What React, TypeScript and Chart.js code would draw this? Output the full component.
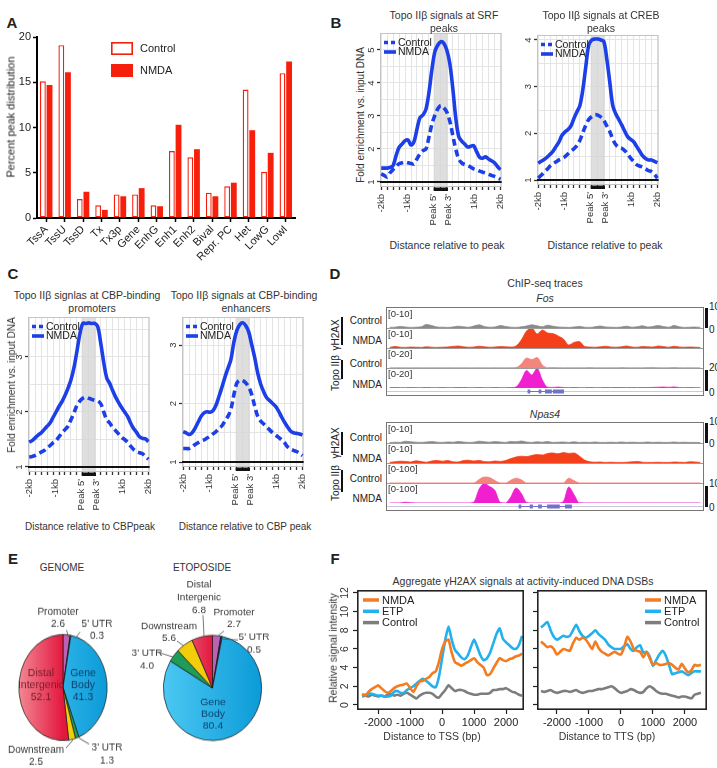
import React, { useEffect, useRef } from "react";
import { Chart, registerables } from "chart.js";

Chart.register(...registerables);

const FONT = "'Liberation Sans', Arial, Helvetica, sans-serif";
const INK = "#222";
Chart.defaults.font.family = FONT;
Chart.defaults.color = INK;

/* ---------------- A: peak distribution over chromatin states ---------------- */
const STATES = ["TssA", "TssU", "TssD", "Tx", "Tx3p", "Gene", "EnhG", "Enh1", "Enh2", "Bival", "Repr. PC", "Het", "LowG", "LowI"];
const PEAKS_CONTROL = [15.1, 19.1, 2.1, 1.4, 2.6, 2.6, 1.4, 7.4, 6.7, 2.8, 3.5, 14.2, 5.1, 16.0];
const PEAKS_NMDA = [14.7, 16.1, 2.9, 0.9, 2.4, 3.3, 1.3, 10.3, 7.6, 2.4, 3.9, 9.7, 7.2, 17.3];
const RED = "#f61f0c";

/* ---------------- B / C: Topo IIβ fold-enrichment profiles ---------------- */
const PROFILE_POS = Array.from({ length: 41 }, (_, i) => i * 2.5);
const PROFILE_GRID = Array.from({ length: 21 }, (_, i) => i * 5);
const PROFILE_TICKS = [0, 22, 44, 56, 78, 100];
const PROFILE_TICK_LABELS = ["-2kb", "-1kb", "Peak 5'", "Peak 3'", "1kb", "2kb"];
const PEAK_BODY = [44, 56];
const BLUE = "#1c3fe8";

const SRF_CONTROL = [1.25, 1.2, 1.15, 1.28, 1.38, 1.47, 1.55, 1.58, 1.6, 1.58, 1.56, 1.55, 1.7, 1.85, 1.95, 2.0, 2.35, 2.75, 3.02, 3.22, 3.32, 3.25, 3.12, 2.85, 2.42, 2.0, 1.7, 1.58, 1.53, 1.5, 1.45, 1.4, 1.37, 1.33, 1.3, 1.27, 1.23, 1.2, 1.17, 1.13, 1.08];
const SRF_NMDA = [1.42, 1.42, 1.42, 1.44, 1.5, 1.8, 2.05, 2.15, 2.25, 2.27, 2.12, 2.22, 2.6, 2.95, 3.03, 3.2, 3.7, 4.4, 4.95, 5.15, 5.25, 5.2, 5.0, 4.6, 3.85, 2.95, 2.38, 2.24, 2.15, 2.06, 2.08, 2.1, 1.92, 1.75, 1.72, 1.76, 1.7, 1.64, 1.58, 1.47, 1.37];
const CREB_CONTROL = [1.04, 1.1, 1.17, 1.23, 1.3, 1.35, 1.39, 1.43, 1.46, 1.5, 1.56, 1.62, 1.67, 1.74, 1.85, 2.02, 2.18, 2.3, 2.36, 2.4, 2.39, 2.35, 2.28, 2.16, 2.04, 1.88, 1.76, 1.7, 1.68, 1.63, 1.56, 1.47, 1.4, 1.33, 1.3, 1.28, 1.24, 1.2, 1.18, 1.12, 1.04];
const CREB_NMDA = [1.36, 1.4, 1.44, 1.49, 1.55, 1.62, 1.72, 1.82, 1.96, 2.03, 2.08, 2.16, 2.32, 2.46, 2.6, 2.95, 3.45, 3.9, 4.0, 4.02, 4.02, 4.0, 3.97, 3.6, 3.1, 2.6, 2.42, 2.3, 2.18, 2.05, 1.93, 1.87, 1.82, 1.72, 1.62, 1.52, 1.46, 1.43, 1.43, 1.4, 1.37];
const PROMOTER_CONTROL = [1.18, 1.19, 1.21, 1.24, 1.27, 1.3, 1.35, 1.39, 1.44, 1.48, 1.55, 1.62, 1.68, 1.74, 1.86, 1.98, 2.12, 2.2, 2.25, 2.27, 2.25, 2.23, 2.21, 2.2, 2.15, 2.0, 1.86, 1.8, 1.72, 1.66, 1.6, 1.54, 1.5, 1.45, 1.38, 1.32, 1.28, 1.26, 1.24, 1.19, 1.14];
const PROMOTER_NMDA = [1.45, 1.48, 1.53, 1.58, 1.62, 1.68, 1.74, 1.8, 1.9, 2.0, 2.1, 2.19, 2.3, 2.43, 2.58, 2.8, 3.1, 3.42, 3.61, 3.61, 3.62, 3.61, 3.61, 3.55, 3.25, 2.9, 2.62, 2.52, 2.39, 2.27, 2.17, 2.08, 2.0, 1.92, 1.8, 1.7, 1.63, 1.55, 1.52, 1.51, 1.46];
const ENHANCER_CONTROL = [1.23, 1.23, 1.23, 1.26, 1.3, 1.33, 1.36, 1.38, 1.41, 1.44, 1.48, 1.52, 1.57, 1.62, 1.7, 1.78, 1.9, 2.15, 2.35, 2.4, 2.39, 2.35, 2.28, 2.15, 1.95, 1.78, 1.7, 1.65, 1.6, 1.55, 1.5, 1.46, 1.42, 1.38, 1.33, 1.26, 1.22, 1.2, 1.18, 1.15, 1.11];
const ENHANCER_NMDA = [1.52, 1.5, 1.47, 1.5, 1.58, 1.68, 1.78, 1.84, 1.86, 1.85, 1.88, 1.97, 2.12, 2.28, 2.45, 2.6, 2.75, 3.05, 3.25, 3.35, 3.38, 3.33, 3.22, 3.0, 2.78, 2.52, 2.33, 2.2, 2.1, 2.05, 2.0, 1.95, 1.87, 1.77, 1.68, 1.6, 1.53, 1.5, 1.49, 1.48, 1.46];

/* ---------------- D: ChIP-seq tracks (60 bins across the locus) ---------------- */
const FOS_GH2AX_CONTROL = [0.3, 0.4, 0.8, 0.5, 0.3, 0.4, 0.6, 1.8, 1.2, 0.5, 0.4, 0.3, 0.5, 0.9, 0.6, 0.4, 1.0, 1.6, 0.7, 0.4, 0.5, 1.2, 0.8, 0.4, 0.3, 0.6, 1.0, 1.6, 1.1, 0.6, 1.4, 0.9, 0.5, 0.4, 0.3, 0.5, 0.8, 0.4, 0.3, 0.6, 1.0, 0.5, 0.4, 0.3, 0.5, 0.9, 0.4, 0.6, 1.1, 0.5, 0.8, 1.2, 0.7, 0.4, 1.3, 0.6, 0.3, 0.4, 0.5, 0.3];
const FOS_GH2AX_NMDA = [0.3, 0.8, 0.4, 0.3, 0.5, 0.4, 0.3, 0.6, 0.4, 0.3, 0.4, 0.5, 0.8, 1.0, 0.6, 0.4, 0.5, 0.9, 0.6, 0.4, 0.5, 0.7, 0.6, 0.5, 1.0, 4.0, 8.5, 10, 7.0, 9.0, 7.5, 7.2, 6.0, 4.5, 1.5, 2.8, 3.2, 0.8, 0.5, 0.4, 0.6, 0.9, 0.5, 0.4, 0.6, 1.0, 0.5, 0.4, 0.8, 0.6, 0.5, 1.0, 0.7, 0.4, 0.9, 0.5, 0.4, 0.5, 0.4, 0.3];
const FOS_TOPO_CONTROL = [0.2, 0.2, 0.3, 0.2, 0.2, 0.3, 0.2, 0.2, 0.3, 0.2, 0.2, 0.3, 0.2, 0.2, 0.3, 0.2, 0.2, 0.3, 0.2, 0.2, 0.3, 0.2, 0.2, 0.3, 0.5, 4.0, 10.0, 8.5, 10.5, 3.0, 0.3, 0.4, 0.3, 0.2, 0.3, 0.2, 0.3, 0.2, 0.4, 0.2, 0.3, 0.2, 0.3, 0.2, 0.5, 0.3, 0.2, 0.3, 0.2, 0.4, 0.6, 0.3, 0.2, 0.3, 0.5, 0.3, 0.2, 0.3, 0.2, 0.2];
const FOS_TOPO_NMDA = [0.3, 0.4, 0.3, 0.3, 0.4, 0.3, 0.3, 0.5, 0.3, 0.3, 0.4, 0.3, 0.3, 0.5, 0.4, 0.3, 0.3, 0.4, 0.3, 0.3, 0.4, 0.3, 0.3, 0.4, 1.0, 8.0, 17.5, 13.0, 19.5, 8.0, 0.8, 0.6, 0.9, 0.5, 0.3, 0.4, 0.3, 0.3, 0.4, 0.3, 0.3, 0.4, 0.3, 0.5, 0.4, 0.3, 0.4, 0.3, 0.5, 0.4, 0.6, 0.8, 1.0, 0.7, 1.1, 0.5, 0.3, 0.4, 0.3, 0.3];
const NPAS4_GH2AX_CONTROL = [0.2, 0.4, 0.3, 0.9, 0.6, 0.4, 0.3, 0.5, 0.7, 0.4, 0.3, 0.5, 0.4, 0.8, 0.5, 0.3, 0.4, 0.9, 0.6, 0.4, 0.7, 0.5, 0.3, 0.8, 0.6, 1.0, 0.5, 0.3, 0.6, 0.4, 0.7, 0.3, 0.4, 0.5, 0.3, 0.6, 0.3, 0.4, 0.3, 0.5, 0.3, 0.3, 0.4, 0.3, 0.5, 0.3, 0.4, 0.3, 0.3, 0.5, 0.3, 0.4, 0.3, 0.3, 0.5, 0.3, 0.4, 0.3, 0.3, 0.2];
const NPAS4_GH2AX_NMDA = [0.3, 0.6, 0.9, 0.8, 0.5, 1.1, 0.7, 0.4, 1.0, 1.2, 0.9, 1.3, 0.6, 0.5, 1.2, 1.4, 1.0, 1.3, 0.7, 0.6, 1.0, 0.8, 1.2, 2.2, 3.0, 3.4, 3.2, 3.8, 4.2, 4.0, 4.8, 5.0, 4.6, 5.2, 4.8, 5.0, 3.5, 1.5, 0.6, 0.4, 0.5, 0.3, 0.4, 0.3, 0.3, 0.4, 0.6, 0.8, 0.4, 0.3, 0.3, 0.4, 0.3, 0.3, 0.5, 0.4, 0.3, 0.6, 0.5, 0.3];
const NPAS4_TOPO_CONTROL = [0.3, 0.3, 0.3, 0.5, 0.3, 0.3, 0.3, 0.3, 0.3, 0.3, 0.3, 0.3, 0.3, 0.3, 0.3, 0.3, 0.6, 18, 30, 27, 12, 0.5, 0.3, 14, 24, 16, 0.5, 0.3, 0.3, 0.3, 0.3, 0.3, 0.3, 0.6, 24, 12, 0.5, 0.3, 0.3, 0.3, 0.3, 0.3, 0.3, 0.3, 0.3, 0.3, 0.3, 0.3, 0.3, 0.3, 0.3, 0.3, 0.3, 0.3, 0.3, 0.3, 0.3, 0.3, 0.3, 0.3];
const NPAS4_TOPO_NMDA = [0.3, 0.3, 0.5, 4, 1, 0.3, 0.3, 0.3, 0.3, 0.3, 0.3, 0.3, 0.3, 0.3, 0.3, 0.3, 5, 70, 98, 82, 62, 3, 0.5, 30, 75, 48, 3, 0.3, 0.3, 0.3, 0.3, 0.3, 0.3, 8, 80, 42, 1, 0.3, 0.3, 0.3, 0.3, 0.3, 0.3, 0.3, 0.3, 0.3, 0.3, 0.3, 0.3, 0.3, 0.3, 0.3, 0.3, 0.3, 0.3, 0.3, 0.3, 0.3, 0.3, 0.3];
const FOS_GENE = [26.2, 33.1];
const FOS_EXONS = [[26.2, 26.7], [28.3, 28.8], [29.5, 30.8], [31.0, 33.1]];
const NPAS4_GENE = [24.5, 34.6];
const NPAS4_EXONS = [[24.5, 25.0], [26.6, 27.2], [28.2, 28.9], [29.9, 32.3], [33.3, 34.6]];

/* ---------------- E: genomic annotation of peaks ---------------- */
const REGIONS = ["Promoter", "5' UTR", "Gene Body", "3' UTR", "Downstream", "Distal Intergenic"];
const GENOME_PCT = [2.6, 0.3, 41.3, 1.3, 2.5, 52.1];
const ETOPOSIDE_PCT = [2.7, 0.5, 80.4, 4.0, 5.6, 6.8];
const REGION_COLORS = ["#bb62b5", "#24215a", "#1aaee8", "#1f9d58", "#f3cd0c", "#e8294a"];

/* ---------------- F: aggregate γH2AX signal ---------------- */
const BP = Array.from({ length: 51 }, (_, i) => -2500 + i * 100);
const BP_TICKS = [-2000, -1000, 0, 1000, 2000];
const INTENSITY_TICKS = [0, 2, 4, 6, 8, 10, 12];
const TSS_NMDA = [1.2, 1.0, 1.4, 1.7, 1.9, 2.1, 1.8, 1.5, 1.3, 1.5, 1.8, 2.0, 2.1, 2.2, 2.3, 1.8, 1.4, 2.0, 2.5, 2.6, 2.8, 3.0, 3.4, 3.6, 4.6, 6.0, 6.8, 7.0, 5.6, 4.6, 4.4, 4.2, 4.4, 4.6, 4.8, 5.0, 4.6, 4.3, 4.0, 3.2, 3.3, 3.9, 4.5, 5.0, 4.8, 4.7, 4.9, 5.0, 5.2, 5.3, 5.5];
const TSS_ETP = [1.0, 1.1, 1.2, 1.2, 1.1, 1.0, 1.0, 0.9, 0.9, 1.0, 1.4, 1.5, 1.3, 1.3, 1.6, 1.8, 2.0, 2.3, 2.6, 2.8, 2.6, 2.3, 2.0, 1.9, 3.0, 5.0, 7.0, 8.4, 7.0, 5.9, 5.5, 5.1, 4.9, 5.3, 6.2, 7.0, 6.2, 5.3, 4.8, 5.0, 5.6, 6.6, 7.6, 8.2, 7.1, 6.7, 6.4, 6.1, 6.0, 6.4, 7.4];
const TSS_CONTROL = [0.9, 1.0, 0.9, 1.1, 1.0, 0.9, 1.0, 0.9, 1.1, 1.2, 1.0, 1.1, 1.0, 1.2, 1.3, 1.1, 0.9, 0.7, 1.0, 1.2, 1.3, 1.3, 1.2, 0.9, 0.8, 1.2, 1.6, 2.1, 1.8, 1.5, 1.6, 1.6, 1.5, 1.3, 1.2, 1.1, 1.1, 1.2, 1.2, 1.2, 1.3, 1.6, 1.6, 1.7, 1.7, 1.8, 1.6, 1.4, 1.3, 1.1, 1.0];
const TTS_NMDA = [6.8, 6.5, 6.2, 6.3, 6.0, 5.4, 5.7, 6.0, 5.9, 5.8, 6.6, 7.2, 7.0, 7.2, 7.0, 6.5, 6.0, 6.8, 6.1, 5.7, 5.5, 5.3, 5.5, 5.7, 5.5, 5.4, 6.2, 7.3, 6.8, 6.0, 5.8, 5.7, 5.1, 5.7, 5.0, 4.3, 4.5, 4.3, 4.3, 4.4, 4.5, 4.3, 4.0, 3.8, 4.4, 3.9, 3.5, 3.7, 4.3, 4.2, 4.3];
const TTS_ETP = [8.3, 8.6, 8.9, 8.0, 7.3, 7.0, 7.2, 7.4, 7.3, 7.4, 8.0, 8.6, 7.9, 7.4, 7.2, 7.4, 7.7, 8.0, 7.6, 7.3, 7.0, 6.5, 6.2, 6.0, 6.0, 6.0, 6.3, 6.5, 6.0, 5.8, 6.2, 6.4, 5.6, 5.7, 5.2, 4.2, 4.8, 5.4, 5.8, 5.3, 4.3, 3.3, 3.4, 3.5, 3.6, 3.4, 3.2, 3.4, 3.6, 3.6, 3.6];
const TTS_CONTROL = [1.5, 1.4, 1.5, 1.6, 1.4, 1.3, 1.4, 1.5, 1.5, 1.4, 1.5, 1.6, 1.4, 1.3, 1.4, 1.5, 1.5, 1.6, 1.7, 1.7, 1.8, 1.9, 2.0, 1.8, 1.5, 1.3, 1.4, 1.5, 1.7, 1.6, 1.4, 1.3, 1.4, 1.8, 2.0, 1.8, 1.5, 1.3, 1.2, 1.2, 1.1, 1.0, 0.9, 0.8, 0.9, 0.9, 0.8, 0.7, 1.1, 1.2, 1.3];
const ORANGE = "#f47b20";
const SKY = "#22b1ec";
const GREY = "#7d7d7d";

type Rect = { left: number; top: number; width: number; height: number };
type Area = { l: number; t: number; r: number; b: number };

/* ---------- generic helpers ---------- */
function ChartCanvas({ rect, make, style }: { rect: Rect; make: () => any; style?: React.CSSProperties }) {
  const ref = useRef<HTMLCanvasElement | null>(null);
  useEffect(() => {
    if (!ref.current) return;
    const chart = new Chart(ref.current, make());
    return () => chart.destroy();
  }, []);
  return (
    <canvas
      ref={ref}
      width={rect.width}
      height={rect.height}
      style={{ position: "absolute", left: rect.left, top: rect.top, width: rect.width, height: rect.height, ...style }}
    />
  );
}

function Label(props: {
  x: number; y: number; text: string; size?: number; align?: "left" | "center" | "right";
  rotate?: number; bold?: boolean; italic?: boolean; color?: string;
}) {
  const { x, y, text, size = 10, align = "center", rotate = 0, bold = false, italic = false, color = INK } = props;
  const tx = align === "center" ? "-50%" : align === "right" ? "-100%" : "0";
  return (
    <div
      style={{
        position: "absolute", left: x, top: y, transform: `translate(${tx}, -50%) rotate(${rotate}deg)`,
        whiteSpace: "nowrap", fontSize: size, lineHeight: 1, fontWeight: bold ? 700 : 400,
        fontStyle: italic ? "italic" : "normal", color, fontFamily: FONT,
      }}
    >
      {text}
    </div>
  );
}

function Bar({ x, y, w, h }: { x: number; y: number; w: number; h: number }) {
  return <div style={{ position: "absolute", left: x, top: y, width: w, height: h, background: "#111" }} />;
}

function drawRotatedYLabels(chart: any, offset: number, size: number, keep: (v: number) => boolean) {
  const { ctx, chartArea: a, scales } = chart;
  const y = scales.y;
  ctx.save();
  ctx.fillStyle = "#333";
  ctx.font = `${size}px ${FONT}`;
  ctx.textAlign = "center";
  ctx.textBaseline = "middle";
  for (const t of y.ticks) {
    if (!keep(t.value)) continue;
    ctx.save();
    ctx.translate(a.left - offset, y.getPixelForValue(t.value));
    ctx.rotate(-Math.PI / 2);
    ctx.fillText(String(t.value), 0, 0);
    ctx.restore();
  }
  ctx.restore();
}

/* ---------- A ---------- */
const barLegend = {
  id: "barLegend",
  afterDraw(chart: any) {
    const { ctx, chartArea: a } = chart;
    ctx.save();
    chart.data.datasets.forEach((d: any, i: number) => {
      const x = a.left + 74;
      const y = a.top + 5 + i * 22;
      ctx.fillStyle = d.backgroundColor;
      ctx.fillRect(x, y, 22, 13);
      ctx.strokeStyle = d.borderColor;
      ctx.lineWidth = 1.6;
      ctx.strokeRect(x + 0.8, y + 0.8, 20.4, 11.4);
      ctx.fillStyle = INK;
      ctx.font = `11px ${FONT}`;
      ctx.textBaseline = "middle";
      ctx.fillText(d.label, x + 29, y + 7);
    });
    ctx.restore();
  },
};

function peakDistributionConfig() {
  const axisGrid = { display: true, drawOnChartArea: false, tickLength: 4, tickWidth: 1.5, tickColor: "#000" };
  return {
    type: "bar",
    data: {
      labels: STATES,
      datasets: [
        { label: "Control", data: PEAKS_CONTROL, backgroundColor: "#ffffff", borderColor: RED, borderWidth: 1.4, borderSkipped: false, categoryPercentage: 0.72, barPercentage: 0.88 },
        { label: "NMDA", data: PEAKS_NMDA, backgroundColor: RED, borderColor: RED, borderWidth: 0, categoryPercentage: 0.72, barPercentage: 0.88 },
      ],
    },
    options: {
      responsive: false,
      animation: false,
      layout: { padding: { top: 37, right: 5, left: 0, bottom: 0 } },
      plugins: { legend: { display: false }, tooltip: { enabled: false } },
      scales: {
        x: {
          grid: { ...axisGrid, offset: false },
          border: { color: "#000", width: 2 },
          ticks: { autoSkip: false, minRotation: 45, maxRotation: 45, padding: 1, font: { size: 11 }, color: INK },
          afterFit: (s: any) => { s.height = 44; },
        },
        y: {
          min: 0, max: 20,
          grid: axisGrid,
          border: { color: "#000", width: 2 },
          ticks: { stepSize: 5, padding: 2, font: { size: 11 }, color: INK },
          afterFit: (s: any) => { s.width = 37; },
        },
      },
    },
    plugins: [barLegend],
  };
}

/* ---------- B / C ---------- */
const profileDecor = {
  id: "profileDecor",
  beforeDatasetsDraw(chart: any) {
    const { ctx, chartArea: a, scales } = chart;
    const x0 = scales.x.getPixelForValue(PEAK_BODY[0]);
    const x1 = scales.x.getPixelForValue(PEAK_BODY[1]);
    ctx.save();
    ctx.fillStyle = "rgba(214,214,214,0.8)";
    ctx.fillRect(x0, a.top, x1 - x0, a.bottom - a.top);
    ctx.strokeStyle = "#c4c4c4";
    ctx.lineWidth = 1;
    ctx.strokeRect(a.left + 0.5, a.top + 0.5, a.right - a.left - 1, a.bottom - a.top - 1);
    const y1 = scales.y.getPixelForValue(1);
    ctx.strokeStyle = "#111";
    ctx.lineWidth = 2;
    ctx.beginPath();
    ctx.moveTo(a.left, y1);
    ctx.lineTo(a.right, y1);
    ctx.stroke();
    ctx.fillStyle = "#111";
    ctx.fillRect(x0, a.bottom + 0.5, x1 - x0, 3.5);
    ctx.restore();
  },
  afterDraw(chart: any) {
    const { ctx, chartArea: a } = chart;
    drawRotatedYLabels(chart, 9, 9.5, (v) => Number.isInteger(v));
    ctx.save();
    chart.data.datasets.forEach((d: any, i: number) => {
      const y = a.top + 9.5 + i * 9.5;
      ctx.strokeStyle = d.borderColor;
      ctx.lineWidth = 3.6;
      ctx.setLineDash(d.borderDash ? [4, 3] : []);
      ctx.beginPath();
      ctx.moveTo(a.left + 4, y);
      ctx.lineTo(a.left + 16, y);
      ctx.stroke();
      ctx.setLineDash([]);
      ctx.fillStyle = INK;
      ctx.font = `10.5px ${FONT}`;
      ctx.textBaseline = "middle";
      ctx.fillText(d.label, a.left + 18, y + 0.5);
    });
    ctx.restore();
  },
};

type ProfilePanel = { rect: Rect; area: Area; yMin: number; yMax: number; control: number[]; nmda: number[] };

function profileConfig(p: ProfilePanel) {
  const { rect, area } = p;
  const yTicks: number[] = [];
  for (let v = Math.ceil(p.yMin * 2) / 2; v <= p.yMax; v += 0.5) yTicks.push(v);
  const bottomSpace = rect.top + rect.height - area.b;
  const series = (vals: number[]) => PROFILE_POS.map((x, i) => ({ x, y: vals[i] }));
  return {
    type: "line",
    data: {
      datasets: [
        { label: "Control", data: series(p.control), borderColor: BLUE, borderWidth: 3.6, borderDash: [7, 4], borderCapStyle: "butt", pointRadius: 0, tension: 0.35, fill: false },
        { label: "NMDA", data: series(p.nmda), borderColor: BLUE, borderWidth: 3.6, pointRadius: 0, tension: 0.35, fill: false },
      ],
    },
    options: {
      responsive: false,
      animation: false,
      layout: { padding: { top: area.t - rect.top, right: rect.left + rect.width - area.r, left: 0, bottom: 0 } },
      plugins: { legend: { display: false }, tooltip: { enabled: false } },
      scales: {
        x: {
          type: "linear", min: -1, max: 101, position: "bottom", weight: 0,
          afterBuildTicks: (s: any) => { s.ticks = PROFILE_GRID.map((v) => ({ value: v })); },
          grid: { color: "#e4e4e4", lineWidth: 1, drawTicks: true, tickLength: 3, tickColor: "#333", tickWidth: 1.3 },
          border: { display: false },
          ticks: { display: false },
          afterFit: (s: any) => { s.height = 3; },
        },
        xl: {
          type: "linear", min: -1, max: 101, position: "bottom", weight: 1,
          afterBuildTicks: (s: any) => { s.ticks = PROFILE_TICKS.map((v) => ({ value: v })); },
          grid: { display: false, drawTicks: false },
          border: { display: false },
          ticks: {
            autoSkip: false, minRotation: 90, maxRotation: 90, padding: 4,
            font: { size: 9.5 }, color: "#333",
            callback: (v: number) => PROFILE_TICK_LABELS[PROFILE_TICKS.indexOf(v)] ?? "",
          },
          afterFit: (s: any) => { s.height = bottomSpace - 3; },
        },
        y: {
          type: "linear", min: p.yMin, max: p.yMax,
          afterBuildTicks: (s: any) => { s.ticks = yTicks.map((v) => ({ value: v })); },
          grid: {
            color: "#e4e4e4", drawTicks: true, tickLength: 3, tickWidth: 1.3,
            tickColor: (c: any) => (c.tick && Number.isInteger(c.tick.value) ? "#333" : "rgba(0,0,0,0)"),
          },
          border: { display: false },
          ticks: { display: false },
          afterFit: (s: any) => { s.width = area.l - rect.left; },
        },
      },
    },
    plugins: [profileDecor],
  };
}

const PROFILE_PANELS: ProfilePanel[] = [
  { rect: { left: 366, top: 30, width: 150, height: 205 }, area: { l: 380, t: 33, r: 508, b: 187 }, yMin: 0.848, yMax: 5.515, control: SRF_CONTROL, nmda: SRF_NMDA },
  { rect: { left: 523, top: 30, width: 150, height: 205 }, area: { l: 537, t: 35, r: 662, b: 185 }, yMin: 0.893, yMax: 4.107, control: CREB_CONTROL, nmda: CREB_NMDA },
  { rect: { left: 14, top: 314, width: 150, height: 205 }, area: { l: 28, t: 317, r: 158, b: 472 }, yMin: 0.909, yMax: 3.727, control: PROMOTER_CONTROL, nmda: PROMOTER_NMDA },
  { rect: { left: 168, top: 314, width: 150, height: 205 }, area: { l: 182, t: 317, r: 310, b: 467 }, yMin: 0.915, yMax: 3.479, control: ENHANCER_CONTROL, nmda: ENHANCER_NMDA },
];

/* ---------- D ---------- */
const trackDecor = {
  id: "trackDecor",
  afterDraw(chart: any, _args: any, o: any) {
    const { ctx, chartArea: a, scales } = chart;
    ctx.save();
    if (o.separator) {
      ctx.strokeStyle = "#9c9c9c";
      ctx.lineWidth = 1;
      ctx.beginPath();
      ctx.moveTo(0, 0.5);
      ctx.lineTo(chart.width, 0.5);
      ctx.stroke();
    }
    ctx.fillStyle = "#333";
    ctx.font = `9.5px ${FONT}`;
    ctx.textBaseline = "top";
    ctx.fillText(`[0-${scales.y.max}]`, 1, 2);
    if (o.gene) {
      const gy = a.bottom + 3.5;
      ctx.strokeStyle = "#c9c9d8";
      ctx.lineWidth = 1;
      ctx.beginPath();
      ctx.moveTo(0, gy);
      ctx.lineTo(chart.width, gy);
      ctx.stroke();
      const gx0 = scales.x.getPixelForValue(o.gene[0]);
      const gx1 = scales.x.getPixelForValue(o.gene[1]);
      ctx.strokeStyle = "#6f72c6";
      ctx.beginPath();
      ctx.moveTo(gx0, gy);
      ctx.lineTo(gx1, gy);
      ctx.stroke();
      ctx.fillStyle = "#7073c8";
      for (const [s, e] of o.exons) {
        const x0 = scales.x.getPixelForValue(s);
        const x1 = scales.x.getPixelForValue(e);
        ctx.fillRect(x0, gy - 2, Math.max(1.5, x1 - x0), 4);
      }
    }
    ctx.restore();
  },
};

type Track = { values: number[]; color: string; max: number };

function trackConfig(t: Track, separator: boolean, gene?: number[], exons?: number[][]) {
  return {
    type: "line",
    data: {
      datasets: [{
        data: t.values.map((y, i) => ({ x: i, y })),
        borderColor: t.color, backgroundColor: t.color, borderWidth: 0.8,
        fill: "origin", pointRadius: 0, cubicInterpolationMode: "monotone",
      }],
    },
    options: {
      responsive: false,
      animation: false,
      layout: { padding: { top: 0, left: 0, right: 0, bottom: gene ? 7 : 0 } },
      plugins: { legend: { display: false }, tooltip: { enabled: false }, trackDecor: { separator, gene, exons: exons || [] } },
      scales: {
        x: { type: "linear", min: -0.5, max: 59.5, display: false },
        y: { type: "linear", min: 0, max: t.max, display: false },
      },
    },
    plugins: [trackDecor],
  };
}

const TRACK_COLORS = { gh2axControl: "#8a8a8a", gh2axNmda: "#f4401a", topoControl: "#f2857c", topoNmda: "#f01fd0" };

const FOS_TRACKS: Track[] = [
  { values: FOS_GH2AX_CONTROL, color: TRACK_COLORS.gh2axControl, max: 10 },
  { values: FOS_GH2AX_NMDA, color: TRACK_COLORS.gh2axNmda, max: 10 },
  { values: FOS_TOPO_CONTROL, color: TRACK_COLORS.topoControl, max: 20 },
  { values: FOS_TOPO_NMDA, color: TRACK_COLORS.topoNmda, max: 20 },
];
const NPAS4_TRACKS: Track[] = [
  { values: NPAS4_GH2AX_CONTROL, color: TRACK_COLORS.gh2axControl, max: 10 },
  { values: NPAS4_GH2AX_NMDA, color: TRACK_COLORS.gh2axNmda, max: 10 },
  { values: NPAS4_TOPO_CONTROL, color: TRACK_COLORS.topoControl, max: 100 },
  { values: NPAS4_TOPO_NMDA, color: TRACK_COLORS.topoNmda, max: 100 },
];

function TrackBlock({ top, tracks, gene, exons }: { top: number; tracks: Track[]; gene: number[]; exons: number[][] }) {
  const offsets = [1, 21, 41, 61];
  return (
    <>
      <div style={{ position: "absolute", left: 386, top, width: 318, height: 89, border: "1px solid #777", boxSizing: "border-box" }} />
      {tracks.map((t, i) => {
        const last = i === tracks.length - 1;
        return (
          <ChartCanvas
            key={i}
            rect={{ left: 387, top: top + offsets[i], width: 316, height: last ? 27 : 20 }}
            make={() => trackConfig(t, i > 0, last ? gene : undefined, last ? exons : undefined)}
          />
        );
      })}
    </>
  );
}

/* ---------- E ---------- */
type PieLabelPos = { x: number; y: number; inside?: boolean; color?: string; leader?: number[] };

const GENOME_LABEL_POS: PieLabelPos[] = [
  { x: 58, y: 612, leader: [66.5, 630, 68.5, 637] },
  { x: 97, y: 624, leader: [80, 632, 75.5, 638] },
  { x: 83, y: 673, inside: true, color: "#0d3f6e" },
  { x: 107, y: 748, leader: [89, 744, 79, 738] },
  { x: 36, y: 750, leader: [66, 748, 73, 740] },
  { x: 41, y: 673, inside: true, color: "#7b1c2a" },
];
const ETOPOSIDE_LABEL_POS: PieLabelPos[] = [
  { x: 234, y: 612, leader: [224, 631, 218, 636] },
  { x: 254, y: 637, leader: [238, 640, 222.5, 639] },
  { x: 213, y: 702, inside: true, color: "#0d3f6e" },
  { x: 147, y: 653, leader: [157, 652, 173, 657] },
  { x: 169, y: 626, leader: [177, 641, 184, 646] },
  { x: 199, y: 585, leader: [203, 615, 204, 636] },
];

const pieLabels = {
  id: "pieLabels",
  afterDraw(chart: any, _args: any, o: any) {
    const { ctx } = chart;
    const values: number[] = chart.data.datasets[0].data;
    const names: string[] = chart.data.labels;
    const mx = (px: number) => px - o.left;
    const my = (py: number) => o.cy + (py - o.pageCy) / o.k;
    ctx.save();
    ctx.textAlign = "center";
    ctx.textBaseline = "middle";
    names.forEach((name, i) => {
      const pos: PieLabelPos = o.positions[i];
      const lines = /Body|Intergenic/.test(name) ? name.split(" ") : [name];
      lines.push(values[i].toFixed(1));
      const step = pos.inside ? 12 : 12.5;
      ctx.fillStyle = pos.color || "#383838";
      ctx.font = `${pos.inside ? 10.5 : 10}px ${FONT}`;
      lines.forEach((t, j) => {
        ctx.save();
        ctx.translate(mx(pos.x), my(pos.y + j * step));
        ctx.scale(1, 1 / o.k);
        ctx.fillText(t, 0, 0);
        ctx.restore();
      });
      if (pos.leader) {
        const [x1, y1, x2, y2] = pos.leader;
        ctx.strokeStyle = "#555";
        ctx.lineWidth = 0.8;
        ctx.beginPath();
        ctx.moveTo(mx(x1), my(y1));
        ctx.lineTo(mx(x2), my(y2));
        ctx.stroke();
      }
    });
    ctx.restore();
  },
};

type PieSpec = { values: number[]; rect: Rect; cx: number; cy: number; r: number; k: number; positions: PieLabelPos[] };

function pieFill(c: any) {
  const i = c.dataIndex;
  const a = c.chart.chartArea;
  if (!a) return REGION_COLORS[i];
  if (i === 2) {
    const g = c.chart.ctx.createLinearGradient(a.left, 0, a.right, 0);
    g.addColorStop(0, "#4cc8f3");
    g.addColorStop(1, "#0b9bd8");
    return g;
  }
  if (i === 5) {
    const g = c.chart.ctx.createLinearGradient(a.left, 0, (a.left + a.right) / 2, 0);
    g.addColorStop(0, "#f38893");
    g.addColorStop(1, "#e3183f");
    return g;
  }
  return REGION_COLORS[i];
}

function pieConfig(p: PieSpec) {
  const cyC = p.cy - p.rect.top;
  const cxC = p.cx - p.rect.left;
  return {
    type: "pie",
    data: {
      labels: REGIONS,
      datasets: [{ data: p.values, backgroundColor: pieFill, borderColor: "#1a1a1a", borderWidth: 0.7 }],
    },
    options: {
      responsive: false,
      animation: false,
      rotation: 0,
      layout: { padding: { left: cxC - p.r, right: p.rect.width - cxC - p.r, top: cyC - p.r, bottom: p.rect.height - cyC - p.r } },
      plugins: {
        legend: { display: false }, tooltip: { enabled: false },
        pieLabels: { left: p.rect.left, cy: cyC, pageCy: p.cy, k: p.k, positions: p.positions },
      },
    },
    plugins: [pieLabels],
  };
}

const PIES: PieSpec[] = [
  { values: GENOME_PCT, rect: { left: 0, top: 590, width: 130, height: 178 }, cx: 63, cy: 687.5, r: 44.5, k: 1.2, positions: GENOME_LABEL_POS },
  { values: ETOPOSIDE_PCT, rect: { left: 130, top: 575, width: 170, height: 193 }, cx: 212.5, cy: 688, r: 49.5, k: 1.07, positions: ETOPOSIDE_LABEL_POS },
];

/* ---------- F ---------- */
const aggregateDecor = {
  id: "aggregateDecor",
  afterDraw(chart: any, _args: any, o: any) {
    const { ctx, chartArea: a } = chart;
    ctx.save();
    ctx.strokeStyle = "#222";
    ctx.lineWidth = 1.6;
    ctx.strokeRect(a.left + 0.8, a.top + 0.8, a.right - a.left - 1.6, a.bottom - a.top - 1.6);
    ctx.restore();
    if (o.yLabels) drawRotatedYLabels(chart, 12, 10.5, () => true);
    ctx.save();
    ctx.font = `11px ${FONT}`;
    ctx.textBaseline = "middle";
    chart.data.datasets.forEach((d: any, i: number) => {
      const y = a.top + 10 + i * 11.3;
      const x0 = o.legendRight ? a.right - 62 : a.left + 6;
      ctx.strokeStyle = d.borderColor;
      ctx.lineWidth = 3.5;
      ctx.beginPath();
      ctx.moveTo(x0, y);
      ctx.lineTo(x0 + 16, y);
      ctx.stroke();
      ctx.fillStyle = INK;
      ctx.fillText(d.label, x0 + 19, y + 0.5);
    });
    ctx.restore();
  },
};

type AggregateSpec = { rect: Rect; area: Area; xMin: number; xMax: number; nmda: number[]; etp: number[]; control: number[]; yLabels: boolean; legendRight: boolean };

function aggregateConfig(p: AggregateSpec) {
  const { rect, area } = p;
  const series = (vals: number[]) => BP.map((x, i) => ({ x, y: vals[i] }));
  const line = { pointRadius: 0, borderWidth: 2.6, tension: 0.2, fill: false };
  const tickGrid = { display: true, drawOnChartArea: false, drawTicks: true, tickLength: 4, tickWidth: 1.2, tickColor: "#222" };
  return {
    type: "line",
    data: {
      datasets: [
        { label: "NMDA", data: series(p.nmda), borderColor: ORANGE, ...line },
        { label: "ETP", data: series(p.etp), borderColor: SKY, ...line },
        { label: "Control", data: series(p.control), borderColor: GREY, ...line },
      ],
    },
    options: {
      responsive: false,
      animation: false,
      layout: { padding: { top: area.t - rect.top, right: rect.left + rect.width - area.r, left: 0, bottom: 0 } },
      plugins: { legend: { display: false }, tooltip: { enabled: false }, aggregateDecor: { yLabels: p.yLabels, legendRight: p.legendRight } },
      scales: {
        x: {
          type: "linear", min: p.xMin, max: p.xMax,
          afterBuildTicks: (s: any) => { s.ticks = BP_TICKS.map((v) => ({ value: v })); },
          grid: tickGrid,
          border: { display: false },
          ticks: { autoSkip: false, maxRotation: 0, padding: 2, font: { size: 11 }, color: INK, callback: (v: number) => String(v) },
          afterFit: (s: any) => { s.height = rect.top + rect.height - area.b; },
        },
        y: {
          type: "linear", min: -0.54, max: 12.32,
          afterBuildTicks: (s: any) => { s.ticks = INTENSITY_TICKS.map((v) => ({ value: v })); },
          grid: tickGrid,
          border: { display: false },
          ticks: { display: false },
          afterFit: (s: any) => { s.width = area.l - rect.left; },
        },
      },
    },
    plugins: [aggregateDecor],
  };
}

const AGGREGATES: AggregateSpec[] = [
  { rect: { left: 336, top: 584, width: 192, height: 160 }, area: { l: 357, t: 590, r: 524, b: 710 }, xMin: -2660, xMax: 2560, nmda: TSS_NMDA, etp: TSS_ETP, control: TSS_CONTROL, yLabels: true, legendRight: false },
  { rect: { left: 530, top: 584, width: 187, height: 160 }, area: { l: 537, t: 590, r: 707, b: 710 }, xMin: -2625, xMax: 2690, nmda: TTS_NMDA, etp: TTS_ETP, control: TTS_CONTROL, yLabels: false, legendRight: true },
];

/* ---------- page ---------- */
export default function App() {
  const fosRows = [321, 341, 364, 385];
  const npasRows = [438, 459, 479, 499];
  const rowNames = ["Control", "NMDA", "Control", "NMDA"];
  return (
    <div style={{ position: "absolute", left: 0, top: 0, width: 717, height: 768, overflow: "hidden", background: "#fff", fontFamily: FONT, color: INK }}>
      {/* panel letters */}
      <Label x={12} y={22} text="A" size={15} bold />
      <Label x={336} y={22} text="B" size={15} bold />
      <Label x={13} y={273} text="C" size={15} bold />
      <Label x={335} y={273} text="D" size={15} bold />
      <Label x={13} y={558} text="E" size={15} bold />
      <Label x={335} y={558} text="F" size={15} bold />

      {/* A */}
      <ChartCanvas rect={{ left: 0, top: 0, width: 300, height: 262 }} make={peakDistributionConfig} />
      <Label x={11} y={117} text="Percent peak distribution" size={11} rotate={-90} />

      {/* B */}
      <ChartCanvas rect={PROFILE_PANELS[0].rect} make={() => profileConfig(PROFILE_PANELS[0])} />
      <ChartCanvas rect={PROFILE_PANELS[1].rect} make={() => profileConfig(PROFILE_PANELS[1])} />
      <Label x={444} y={15} text="Topo IIβ signals at SRF" size={10.5} color="#333" />
      <Label x={444} y={28} text="peaks" size={10.5} color="#333" />
      <Label x={601} y={15} text="Topo IIβ signals at CREB" size={10.5} color="#333" />
      <Label x={601} y={28} text="peaks" size={10.5} color="#333" />
      <Label x={361} y={115} text="Fold enrichment vs. input DNA" size={10} rotate={-90} color="#333" />
      <Label x={447} y={245} text="Distance relative to peak" size={10.5} color="#333" />
      <Label x={605} y={245} text="Distance relative to peak" size={10.5} color="#333" />

      {/* C */}
      <ChartCanvas rect={PROFILE_PANELS[2].rect} make={() => profileConfig(PROFILE_PANELS[2])} />
      <ChartCanvas rect={PROFILE_PANELS[3].rect} make={() => profileConfig(PROFILE_PANELS[3])} />
      <Label x={87} y={295} text="Topo IIβ signlas at CBP-binding" size={10.5} color="#333" />
      <Label x={92} y={308} text="promoters" size={10.5} color="#333" />
      <Label x={244} y={295} text="Topo IIβ signals at CBP-binding" size={10.5} color="#333" />
      <Label x={246} y={308} text="enhancers" size={10.5} color="#333" />
      <Label x={12} y={385} text="Fold enrichment vs. input DNA" size={10} rotate={-90} color="#333" />
      <Label x={90} y={527} text="Distance relative to CBPpeak" size={10} color="#333" />
      <Label x={245} y={527} text="Distance relative to CBP peak" size={10} color="#333" />

      {/* D */}
      <Label x={545} y={283} text="ChIP-seq traces" size={10.5} color="#333" />
      <Label x={545} y={298} text="Fos" size={10.5} italic color="#333" />
      <Label x={545} y={414} text="Npas4" size={10.5} italic color="#333" />
      <TrackBlock top={307} tracks={FOS_TRACKS} gene={FOS_GENE} exons={FOS_EXONS} />
      <TrackBlock top={422} tracks={NPAS4_TRACKS} gene={NPAS4_GENE} exons={NPAS4_EXONS} />
      {fosRows.map((y, i) => <Label key={`f${i}`} x={382} y={y} text={rowNames[i]} size={10} align="right" />)}
      {npasRows.map((y, i) => <Label key={`n${i}`} x={382} y={y} text={rowNames[i]} size={10} align="right" />)}
      <Label x={336} y={335} text="γH2AX" size={10} rotate={-90} />
      <Bar x={341} y={317} w={1.5} h={28} />
      <Label x={336} y={373} text="Topo IIβ" size={10} rotate={-90} />
      <Bar x={341} y={360} w={1.5} h={19} />
      <Label x={336} y={443} text="γH2AX" size={10} rotate={-90} />
      <Bar x={341} y={432} w={1.5} h={23} />
      <Label x={336} y={483} text="Topo IIβ" size={10} rotate={-90} />
      <Bar x={341} y={470} w={1.5} h={22} />
      <Bar x={705} y={308} w={2.5} h={20} />
      <Bar x={705} y={370} w={2.5} h={21} />
      <Bar x={705} y={423} w={2.5} h={20} />
      <Bar x={705} y={486} w={2.5} h={21} />
      <Label x={709} y={307} text="10" size={10} align="left" />
      <Label x={709} y={330} text="0" size={10} align="left" />
      <Label x={709} y={368} text="20" size={10} align="left" />
      <Label x={709} y={393} text="0" size={10} align="left" />
      <Label x={709} y={422} text="10" size={10} align="left" />
      <Label x={709} y={444} text="0" size={10} align="left" />
      <Label x={709} y={484} text="100" size={10} align="left" />
      <Label x={709} y={508} text="0" size={10} align="left" />

      {/* E */}
      <Label x={62} y={568} text="GENOME" size={10} color="#333" />
      <Label x={202} y={568} text="ETOPOSIDE" size={10} color="#333" />
      {PIES.map((p, i) => (
        <ChartCanvas
          key={`pie${i}`}
          rect={p.rect}
          make={() => pieConfig(p)}
          style={{ transform: `scaleY(${p.k})`, transformOrigin: `${p.cx - p.rect.left}px ${p.cy - p.rect.top}px` }}
        />
      ))}

      {/* F */}
      <Label x={523} y={581} text="Aggregate γH2AX signals at activity-induced DNA DSBs" size={10.5} color="#333" />
      <ChartCanvas rect={AGGREGATES[0].rect} make={() => aggregateConfig(AGGREGATES[0])} />
      <ChartCanvas rect={AGGREGATES[1].rect} make={() => aggregateConfig(AGGREGATES[1])} />
      <Label x={333} y={648} text="Relative signal intensity" size={10.5} rotate={-90} color="#333" />
      <Label x={432} y={736} text="Distance to TSS (bp)" size={10.5} color="#333" />
      <Label x={607} y={736} text="Distance to TTS (bp)" size={10.5} color="#333" />
    </div>
  );
}
